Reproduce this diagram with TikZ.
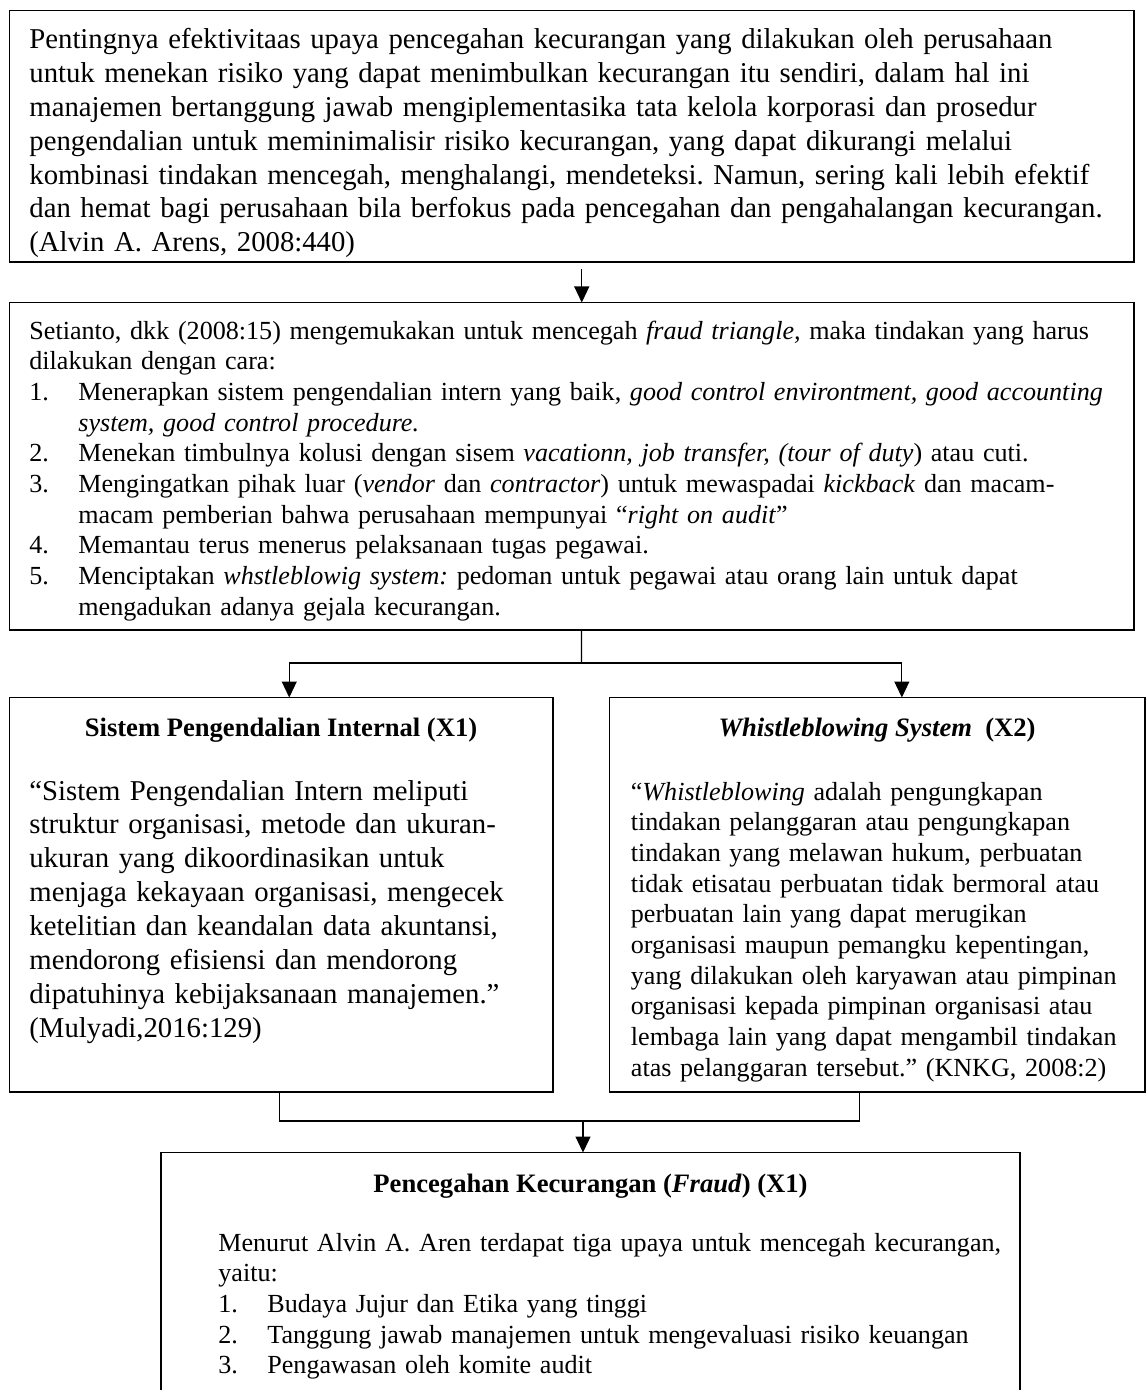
\documentclass[tikz,border=0pt]{standalone}
\usepackage{fontspec}
\setmainfont{Liberation Serif}
\usepackage{tikz}
\usetikzlibrary{positioning, arrows.meta}
\frenchspacing

\newcommand{\numbox}[1]{\makebox[24.5pt][l]{#1.}}
\newcommand{\contind}{\hspace*{24.5pt}}

\begin{document}
\begin{tikzpicture}[x=0.5pt, y=-0.5pt,
  boxline/.style={draw, line width=0.75pt, inner sep=0pt, outer sep=0pt, anchor=north west},
  bigtxt/.style={anchor=base west, inner sep=0pt, text width=#1, align=left,
                 font=\fontsize{14.37}{16.95}\selectfont},
  smalltxt/.style={anchor=base west, inner sep=0pt, text width=#1, align=left,
                   font=\fontsize{13.05}{15.35}\selectfont},
  ttl/.style={anchor=base, inner sep=0pt, font=\fontsize{13.3}{15.3}\selectfont\bfseries},
  link/.style={line width=0.6pt},
  arr/.style={link, -{Triangle[length=8pt, width=7.5pt]}}]
  \useasboundingbox (0,0) rectangle (1147,1390);
  \clip (0,0) rectangle (1147,1390);

  % boxes
  \node[boxline, minimum width=562.25pt, minimum height=125.75pt] (b1) at (9.5,10.5) {};
  \node[boxline, minimum width=562.25pt, minimum height=163.75pt] (b2) at (9.5,302.5) {};
  \node[boxline, minimum width=271.75pt, minimum height=197.25pt] (b3) at (9.5,697.5) {};
  \node[boxline, minimum width=267.75pt, minimum height=197.25pt] (b4) at (609.5,697.5) {};
  \node[boxline, minimum width=429.5pt, minimum height=140pt] (b5) at (161,1152.5) {};

  % texts
  \node[bigtxt=600pt] (t1) at (29,48.5) {%
    Pentingnya efektivitaas upaya pencegahan kecurangan yang dilakukan oleh perusahaan\\
    untuk menekan risiko yang dapat menimbulkan kecurangan itu sendiri, dalam hal ini\\
    manajemen bertanggung jawab mengiplementasika tata kelola korporasi dan prosedur\\
    pengendalian untuk meminimalisir risiko kecurangan, yang dapat dikurangi melalui\\
    kombinasi tindakan mencegah, menghalangi, mendeteksi. Namun, sering kali lebih efektif\\
    dan hemat bagi perusahaan bila berfokus pada pencegahan dan pengahalangan kecurangan.\\
    (Alvin A. Arens, 2008:440)};

  \node[smalltxt=600pt] (t2) at (29,339) {%
    Setianto, dkk (2008:15) mengemukakan untuk mencegah \textit{fraud triangle,} maka tindakan yang harus\\
    dilakukan dengan cara:\\
    \numbox{1}Menerapkan sistem pengendalian intern yang baik, \textit{good control environtment, good accounting}\\
    \contind\textit{system, good control procedure.}\\
    \numbox{2}Menekan timbulnya kolusi dengan sisem \textit{vacationn, job transfer, (tour of duty}) atau cuti.\\
    \numbox{3}Mengingatkan pihak luar (\textit{vendor} dan \textit{contractor}) untuk mewaspadai \textit{kickback} dan macam-\\
    \contind macam pemberian bahwa perusahaan mempunyai ``\textit{right on audit}''\\
    \numbox{4}Memantau terus menerus pelaksanaan tugas pegawai.\\
    \numbox{5}Menciptakan \textit{whstleblowig system:} pedoman untuk pegawai atau orang lain untuk dapat\\
    \contind mengadukan adanya gejala kecurangan.};

  \node[ttl] (h3) at (281,736) {Sistem Pengendalian Internal (X1)};
  \node[bigtxt=300pt] (t3) at (29,800) {%
    ``Sistem Pengendalian Intern meliputi\\
    struktur organisasi, metode dan ukuran-\\
    ukuran yang dikoordinasikan untuk\\
    menjaga kekayaan organisasi, mengecek\\
    ketelitian dan keandalan data akuntansi,\\
    mendorong efisiensi dan mendorong\\
    dipatuhinya kebijaksanaan manajemen.''\\
    (Mulyadi,2016:129)};

  \node[ttl] (h4) at (877,736) {\textit{Whistleblowing System}\ \ (X2)};
  \node[smalltxt=300pt] (t4) at (630.5,800) {%
    ``\textit{Whistleblowing} adalah pengungkapan\\
    tindakan pelanggaran atau pengungkapan\\
    tindakan yang melawan hukum, perbuatan\\
    tidak etisatau perbuatan tidak bermoral atau\\
    perbuatan lain yang dapat merugikan\\
    organisasi maupun pemangku kepentingan,\\
    yang dilakukan oleh karyawan atau pimpinan\\
    organisasi kepada pimpinan organisasi atau\\
    lembaga lain yang dapat mengambil tindakan\\
    atas pelanggaran tersebut.'' (KNKG, 2008:2)};

  \node[ttl] (h5) at (590.5,1192) {Pencegahan Kecurangan (\textit{Fraud}) (X1)};
  \node[smalltxt=420pt] (t5) at (218,1251) {%
    Menurut Alvin A. Aren terdapat tiga upaya untuk mencegah kecurangan,\\
    yaitu:\\
    \numbox{1}Budaya Jujur dan Etika yang tinggi\\
    \numbox{2}Tanggung jawab manajemen untuk mengevaluasi risiko keuangan\\
    \numbox{3}Pengawasan oleh komite audit};

  % connectors
  \coordinate (fork) at (581.5,663);
  \coordinate (join) at (583,1121);
  \draw[arr] ([xshift=5pt, yshift=-3.5pt]b1.south) -- ([xshift=5pt]b2.north);
  \draw[link] ([xshift=4.9pt]b2.south) -- (fork);
  \draw[arr] (fork) -| ([xshift=4pt]b3.north);
  \draw[arr] (fork) -| ([xshift=12.3pt]b4.north);
  \draw[link] ([xshift=-1pt]b3.south) |- (join) -| ([xshift=-9pt]b4.south);
  \draw[arr] (join) -- (join |- b5.north);
\end{tikzpicture}
\end{document}
